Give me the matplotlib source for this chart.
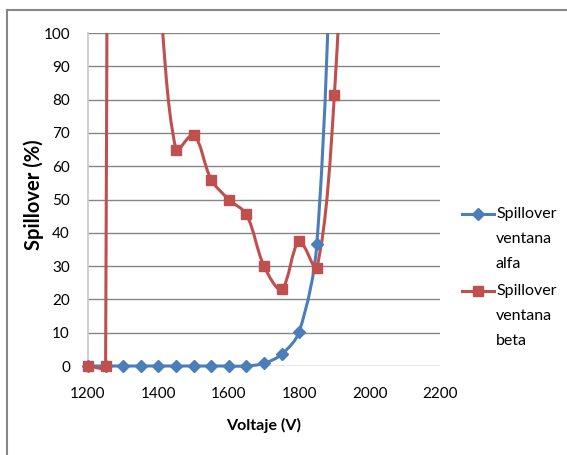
import numpy as np
import matplotlib
matplotlib.use("Agg")
import matplotlib.pyplot as plt
from matplotlib.path import Path
from matplotlib.patches import PathPatch, Rectangle
from matplotlib.lines import Line2D

plt.rcParams['font.family'] = ['Lato', 'DejaVu Sans']

# data (values above 100 run off the top of the chart)
voltaje_alfa = [1200, 1250, 1300, 1350, 1400, 1450, 1500, 1550, 1600, 1650,
                1700, 1750, 1800, 1850, 1900]
spill_alfa = [0, 0, 0, 0, 0, 0, 0, 0, 0, 0, 0.8, 3.5, 10.3, 36.5, 150]

voltaje_beta = [1200, 1250, 1300, 1350, 1400, 1450, 1500, 1550, 1600, 1650,
                1700, 1750, 1800, 1850, 1900, 1950]
spill_beta = [0, 0, 2500, 170, 116, 65, 69.5, 56, 50, 45.5, 30, 23, 37.5,
              29.5, 81.5, 200]

x_ticks = [1200, 1400, 1600, 1800, 2000, 2200]
y_ticks = list(range(0, 101, 10))

blue = '#4a7ebb'
red = '#c0504d'
grid_col = '#868686'


def smooth_path(ax, xs, ys):
    # Excel-like smoothed scatter line: Bezier with control points scaled by
    # neighbouring segment lengths measured on screen
    pts = np.column_stack([xs, ys]).astype(float)
    disp = ax.transData.transform(pts)
    n = len(pts)
    verts = [pts[0]]
    codes = [Path.MOVETO]
    for i in range(n - 1):
        i0, i3 = max(i - 1, 0), min(i + 2, n - 1)
        d01 = np.hypot(*(disp[i] - disp[i0]))
        d12 = np.hypot(*(disp[i + 1] - disp[i]))
        d23 = np.hypot(*(disp[i3] - disp[i + 1]))
        f1 = d12 / (d01 + d12) if d01 + d12 > 0 else 0
        f2 = d12 / (d12 + d23) if d12 + d23 > 0 else 0
        c1 = pts[i] + (pts[i + 1] - pts[i0]) * f1 / 3
        c2 = pts[i + 1] - (pts[i3] - pts[i]) * f2 / 3
        verts += [c1, c2, pts[i + 1]]
        codes += [Path.CURVE4] * 3
    return Path(verts, codes)


fig = plt.figure(figsize=(5.67, 4.55), dpi=100)
ax = fig.add_axes([88 / 567, 1 - 366 / 455, 352 / 567, 333 / 455])
ax.set_xlim(1200, 2200)
ax.set_ylim(0, 100)

clip = Rectangle((-0.03, -0.04), 1.06, 1.04, transform=ax.transAxes,
                 visible=False)
ax.add_patch(clip)

for xs, ys, col, mk, ms in [(voltaje_alfa, spill_alfa, blue, 'D', 6),
                            (voltaje_beta, spill_beta, red, 's', 7.5)]:
    patch = PathPatch(smooth_path(ax, xs, ys), facecolor='none',
                      edgecolor=col, lw=2.2, zorder=3)
    ax.add_patch(patch)
    patch.set_clip_path(clip)
    ax.plot(xs, ys, linestyle='none', marker=mk, color=col, ms=ms,
            zorder=4, clip_on=False)

ax.set_xticks(x_ticks)
ax.set_yticks(y_ticks)
ax.tick_params(axis='both', length=0, labelsize=11, colors='black')
ax.tick_params(axis='x', pad=15)
ax.tick_params(axis='y', pad=13)
ax.yaxis.grid(True, color=grid_col, lw=1)
ax.set_axisbelow(True)
for s in ['top', 'right', 'bottom']:
    ax.spines[s].set_visible(False)
ax.spines['left'].set_color('#c8c8c8')
ax.spines['left'].set_linewidth(1.2)

ax.set_xlabel('Voltaje (V)', fontsize=11.5, fontweight='bold', labelpad=12)
ax.set_ylabel('Spillover (%)', fontsize=14.5, fontweight='bold')
ax.yaxis.set_label_coords(-0.125, 0.515)

# legend drawn by hand to get the wrapped, widely spaced labels
entries = [(blue, 'D', 6, ['Spillover', 'ventana', 'alfa'], 214),
           (red, 's', 7.5, ['Spillover', 'ventana', 'beta'], 291)]
for col, mk, ms, words, ypix in entries:
    yf = 1 - ypix / 455
    fig.add_artist(Line2D([462 / 567, 494 / 567], [yf, yf], color=col,
                          lw=2.2, transform=fig.transFigure))
    fig.add_artist(Line2D([478 / 567], [yf], color=col, marker=mk, ms=ms,
                          transform=fig.transFigure))
    for k, w in enumerate(words):
        fig.text(496 / 567, 1 - (ypix + 25 * k) / 455, w, fontsize=11.5,
                 va='center', ha='left')

# chart area border (cut off at right and bottom in the original)
fig.add_artist(Line2D([7 / 567, 1.0], [1 - 10 / 455, 1 - 10 / 455],
                      color='#868686', lw=1.5, transform=fig.transFigure))
fig.add_artist(Line2D([7 / 567, 7 / 567], [0, 1 - 10 / 455],
                      color='#868686', lw=1.5, transform=fig.transFigure))

fig.savefig('out.png', dpi=100)
